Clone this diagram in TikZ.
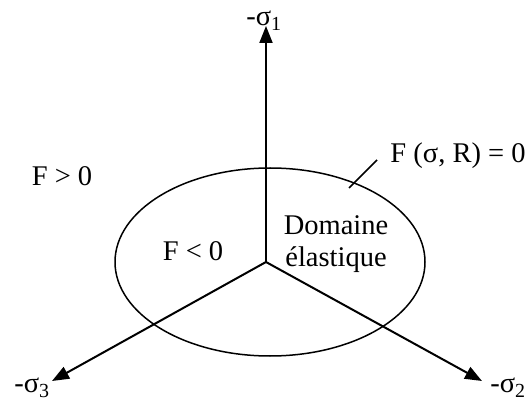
\documentclass[tikz,border=0pt]{standalone}
\usepackage{fontspec}
\setmainfont{Liberation Serif}
\usetikzlibrary{arrows.meta,shapes.geometric}
\begin{document}
\begin{tikzpicture}[x=1pt,y=-1pt,
  axis/.style={line width=2pt,-{Triangle[length=17pt,width=13pt]}},
  lbl/.style={font=\fontsize{28.5}{32}\selectfont, inner sep=0pt},
  thin line/.style={line width=1.5pt}]
\useasboundingbox (0,0) rectangle (530,403);
% labels
\node[lbl] (s1) at (264,21) {-σ\textsubscript{1}};
\node[lbl] (s3) at (32,388) {-σ\textsubscript{3}};
\node[lbl] (s2) at (508,388) {-σ\textsubscript{2}};
\node[lbl] (fpos) at (62,176) {F > 0};
\node[lbl] (fneg) at (193,251) {F < 0};
\node[lbl, align=center] (dom) at (336,244) {Domaine\\élastique};
\node[lbl] (fz) at (458,156) {F (σ, R) = 0};
% ellipse
\node[draw, thin line, ellipse, minimum width=310pt, minimum height=188pt, inner sep=0pt] (E) at (270,262) {};
% axes
\coordinate (O) at (266,262);
\coordinate (T) at (266,26);
\coordinate (L) at (52,381);
\coordinate (R) at (482,381);
\draw[axis] (O) -- (T);
\draw[axis] (O) -- (L);
\draw[axis] (O) -- (R);
% leader
\coordinate (la) at (349,188);
\coordinate (lb) at (377,160);
\draw[thin line] (la) -- (lb);
\end{tikzpicture}
\end{document}
